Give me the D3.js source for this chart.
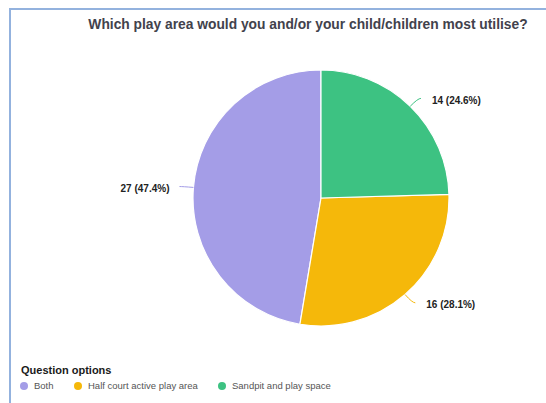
<!DOCTYPE html>
<html>
<head>
<meta charset="utf-8">
<script src="https://cdn.jsdelivr.net/npm/d3@7"></script>
<style>
  body { margin: 0; background: #fff; }
  svg { display: block; font-family: "Liberation Sans", Arial, sans-serif; }
</style>
</head>
<body>
<svg width="546" height="403"></svg>
<script>
const width = 546;
const height = 403;
const svg = d3.select('svg');

// data
const title = 'Which play area would you and/or your child/children most utilise?';
const legendTitle = 'Question options';
const categories = ['Both', 'Half court active play area', 'Sandpit and play space'];
const counts = [27, 16, 14];
const colors = ['#a49de7', '#f5b80a', '#3dc282'];

const total = d3.sum(counts);
const data = categories.map((c, i) => ({ name: c, value: counts[i], color: colors[i] }));

// frame
svg.append('path')
   .attr('d', `M10,${height} V9 H${width}`)
   .attr('fill', 'none')
   .attr('stroke', '#93b2de')
   .attr('stroke-width', 2);

// title
svg.append('text')
   .attr('x', 308)
   .attr('y', 29)
   .attr('text-anchor', 'middle')
   .style('font-size', '13.8px')
   .style('font-weight', 'bold')
   .attr('fill', '#42424c')
   .text(title);

// pie, drawn anticlockwise from the top so the first category ends up on the left
const cx = 321, cy = 198, radius = 128;
const pie = d3.pie().sort(null).value(d => d.value)
              .startAngle(2 * Math.PI).endAngle(0);
const arc = d3.arc().innerRadius(0).outerRadius(radius);
const arcs = pie(data);

const g = svg.append('g').attr('transform', `translate(${cx},${cy})`);

g.selectAll('path.slice')
 .data(arcs)
 .enter()
 .append('path')
   .attr('class', 'slice')
   .attr('d', arc)
   .attr('fill', d => d.data.color)
   .attr('stroke', '#fff')
   .attr('stroke-width', 1.2);

// leader lines and value labels
arcs.forEach(d => {
  const mid = (d.startAngle + d.endAngle) / 2;
  const pt = r => [Math.sin(mid) * r, -Math.cos(mid) * r];
  const p0 = pt(radius);
  const p1 = pt(radius + 11);
  const right = Math.sin(mid) > 0;
  const p2 = [p1[0] + (right ? 3 : -3), p1[1]];
  g.append('path')
   .attr('d', `M${p0[0]},${p0[1]} Q${p1[0]},${p1[1]} ${p2[0]},${p2[1]}`)
   .attr('fill', 'none')
   .attr('stroke', d.data.color)
   .attr('stroke-width', 1);
  g.append('text')
   .attr('x', p2[0] + (right ? 11 : -10))
   .attr('y', p2[1] + 2)
   .attr('dy', '0.35em')
   .attr('text-anchor', right ? 'start' : 'end')
   .style('font-size', '10px')
   .style('font-weight', 'bold')
   .attr('fill', '#222')
   .text(`${d.data.value} (${(d.data.value / total * 100).toFixed(1)}%)`);
});

// legend
svg.append('text')
   .attr('x', 21)
   .attr('y', 374)
   .style('font-size', '11px')
   .style('font-weight', 'bold')
   .attr('fill', '#1a1a1a')
   .text(legendTitle);

const legendX = d3.scaleOrdinal().domain(categories).range([24, 78, 222]);

const item = svg.selectAll('g.legend')
  .data(data)
  .enter()
  .append('g')
    .attr('class', 'legend')
    .attr('transform', d => `translate(${legendX(d.name)},386)`);

item.append('circle')
    .attr('r', 4)
    .attr('fill', d => d.color);

item.append('text')
    .attr('x', 10)
    .attr('dy', '0.35em')
    .style('font-size', '9.5px')
    .attr('fill', '#555')
    .text(d => d.name);
</script>
</body>
</html>
